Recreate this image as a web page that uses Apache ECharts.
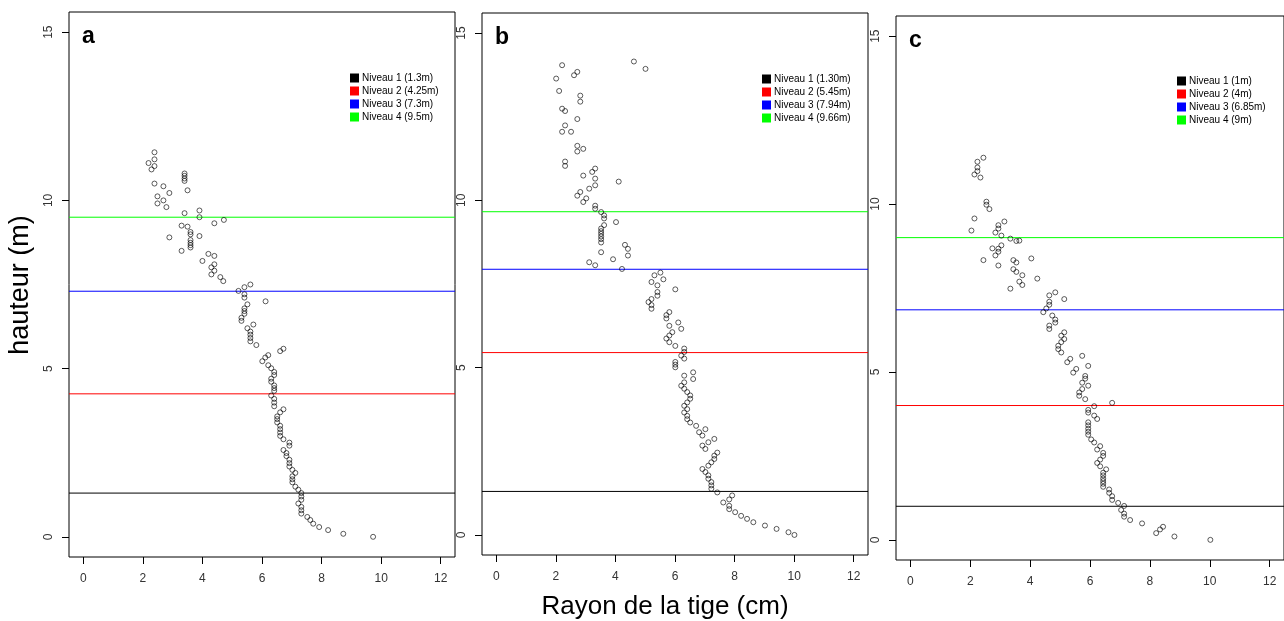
<!DOCTYPE html>
<html>
<head>
<meta charset="utf-8">
<script src="https://cdn.jsdelivr.net/npm/echarts@6/dist/echarts.min.js"></script>
<style>html,body{margin:0;padding:0;background:#fff}#c{width:1284px;height:621px}</style>
</head>
<body>
<div id="c"></div>
<script>
// ---------- data ----------
const ticksX = [0, 2, 4, 6, 8, 10, 12];
const ticksY = [0, 5, 10, 15];
const panelLetters = ['a', 'b', 'c'];
const niveauColors = ['#000000', '#ff0000', '#0000ff', '#00ff00'];

const aRayon = [2.39,2.39,2.19,2.39,2.29,3.40,3.40,3.40,3.40,2.39,2.69,3.50,2.89,2.49,2.69,2.49,2.79,3.90,3.40,3.90,4.72,4.40,3.30,3.50,3.60,3.60,3.90,2.89,3.60,3.60,3.60,3.60,3.30,4.20,4.40,4.00,4.40,4.30,4.40,4.30,4.60,4.70,5.61,5.41,5.21,5.41,5.41,6.12,5.51,5.41,5.41,5.41,5.31,5.31,5.71,5.51,5.61,5.61,5.61,5.61,5.81,6.72,6.61,6.21,6.11,6.01,6.21,6.31,6.41,6.41,6.31,6.31,6.41,6.41,6.41,6.31,6.41,6.41,6.41,6.72,6.61,6.51,6.51,6.51,6.61,6.61,6.61,6.61,6.72,6.92,6.92,6.72,6.82,6.82,6.92,6.92,6.92,7.02,7.12,7.02,7.02,7.02,7.12,7.22,7.32,7.32,7.32,7.22,7.32,7.32,7.32,7.52,7.62,7.72,7.92,8.22,8.73,9.73];
const aHauteur = [11.43,11.22,11.11,11.02,10.92,10.80,10.73,10.65,10.58,10.50,10.42,10.30,10.22,10.12,10.00,9.91,9.80,9.70,9.62,9.50,9.42,9.32,9.25,9.22,9.06,8.99,8.94,8.90,8.82,8.74,8.67,8.60,8.50,8.41,8.35,8.20,8.10,8.01,7.91,7.80,7.72,7.60,7.50,7.42,7.31,7.21,7.11,7.00,6.91,6.79,6.71,6.63,6.51,6.42,6.31,6.20,6.10,6.01,5.91,5.81,5.70,5.59,5.52,5.40,5.33,5.22,5.10,5.01,4.90,4.81,4.70,4.61,4.50,4.42,4.34,4.20,4.10,3.99,3.88,3.79,3.70,3.58,3.50,3.40,3.30,3.20,3.10,3.00,2.90,2.80,2.71,2.58,2.49,2.40,2.29,2.19,2.09,1.99,1.90,1.80,1.71,1.62,1.49,1.40,1.30,1.20,1.10,0.99,0.89,0.79,0.69,0.59,0.50,0.39,0.29,0.20,0.09,0.00];
const aNiveaux = [1.3, 4.25, 7.3, 9.5];
const aNoms = ['Niveau 1 (1.3m)', 'Niveau 2 (4.25m)', 'Niveau 3 (7.3m)', 'Niveau 4 (9.5m)'];

const bRayon = [4.62,5.01,2.21,2.72,2.61,2.01,2.11,2.82,2.82,2.21,2.31,2.72,2.31,2.21,2.51,2.72,2.92,2.72,2.31,2.31,3.32,3.22,2.92,3.32,4.11,3.32,3.12,2.82,2.72,3.02,2.92,3.32,3.32,3.52,3.62,3.62,4.02,3.62,3.52,3.52,3.52,3.52,3.52,3.52,4.32,4.42,3.52,4.42,3.92,3.12,3.32,4.22,5.51,5.31,5.61,5.21,5.41,6.01,5.41,5.41,5.21,5.11,5.21,5.21,5.81,5.71,5.71,6.11,5.81,6.21,5.91,5.81,5.71,5.81,6.01,6.31,6.31,6.21,6.31,6.01,6.01,6.01,6.61,6.31,6.61,6.31,6.21,6.31,6.41,6.51,6.51,6.41,6.31,6.41,6.31,6.41,6.41,6.51,6.71,7.02,6.81,6.92,7.32,7.12,6.92,7.02,7.42,7.32,7.32,7.22,7.12,6.92,7.02,7.12,7.12,7.22,7.22,7.22,7.42,7.92,7.82,7.62,7.82,7.82,8.02,8.22,8.42,8.63,9.02,9.41,9.81,10.01];
const bHauteur = [14.15,13.93,14.04,13.84,13.74,13.64,13.27,13.13,12.95,12.74,12.67,12.43,12.24,12.05,12.05,11.63,11.54,11.46,11.16,11.03,10.95,10.85,10.74,10.65,10.56,10.45,10.35,10.25,10.14,10.06,9.95,9.84,9.75,9.65,9.55,9.46,9.35,9.26,9.16,9.08,9.00,8.92,8.84,8.74,8.67,8.55,8.45,8.35,8.24,8.15,8.06,7.95,7.84,7.76,7.64,7.56,7.46,7.34,7.26,7.15,7.05,6.96,6.87,6.76,6.66,6.57,6.47,6.35,6.25,6.16,6.06,5.96,5.87,5.76,5.65,5.57,5.47,5.36,5.27,5.17,5.09,5.01,4.86,4.76,4.66,4.56,4.46,4.37,4.27,4.17,4.07,3.96,3.86,3.76,3.66,3.56,3.46,3.36,3.26,3.16,3.07,2.97,2.87,2.77,2.67,2.57,2.46,2.37,2.27,2.17,2.07,1.97,1.88,1.78,1.68,1.58,1.48,1.38,1.27,1.18,1.06,0.97,0.87,0.77,0.68,0.57,0.48,0.38,0.28,0.18,0.08,0.00];
const bNiveaux = [1.30, 5.45, 7.94, 9.66];
const bNoms = ['Niveau 1 (1.30m)', 'Niveau 2 (5.45m)', 'Niveau 3 (7.94m)', 'Niveau 4 (9.66m)'];

const cRayon = [2.44,2.24,2.24,2.24,2.14,2.34,2.54,2.54,2.64,2.14,3.14,2.94,2.94,2.04,2.84,3.04,3.34,3.54,3.64,3.04,2.74,2.94,2.94,2.84,4.04,2.44,3.44,3.54,2.94,3.44,3.54,3.74,4.24,3.64,3.74,3.34,4.84,4.64,5.14,4.64,4.64,4.54,4.44,4.74,4.84,4.84,4.64,4.64,5.14,5.04,5.14,5.04,4.94,4.94,5.04,5.74,5.34,5.24,5.94,5.54,5.44,5.84,5.84,5.74,5.94,5.74,5.64,5.64,5.84,6.74,6.14,5.94,5.94,6.14,6.24,5.94,5.94,5.94,5.94,5.94,6.04,6.14,6.34,6.24,6.44,6.44,6.34,6.24,6.34,6.54,6.44,6.44,6.44,6.44,6.44,6.44,6.64,6.64,6.74,6.74,6.94,7.14,7.04,7.14,7.14,7.34,7.74,8.44,8.34,8.21,8.82,10.02];
const cHauteur = [11.38,11.26,11.09,10.98,10.88,10.79,10.07,9.98,9.85,9.57,9.48,9.37,9.27,9.21,9.15,9.06,8.97,8.90,8.91,8.77,8.68,8.67,8.58,8.47,8.38,8.33,8.33,8.26,8.17,8.06,7.98,7.88,7.78,7.69,7.59,7.48,7.37,7.28,7.17,7.09,7.00,6.89,6.78,6.68,6.56,6.47,6.38,6.28,6.18,6.08,5.98,5.89,5.78,5.68,5.58,5.48,5.39,5.29,5.18,5.09,4.98,4.88,4.80,4.68,4.59,4.49,4.39,4.29,4.19,4.08,3.98,3.87,3.79,3.70,3.60,3.50,3.41,3.31,3.22,3.13,2.99,2.90,2.79,2.69,2.59,2.50,2.39,2.29,2.19,2.10,2.00,1.92,1.83,1.75,1.67,1.58,1.50,1.40,1.30,1.19,1.10,1.01,0.89,0.78,0.69,0.59,0.49,0.39,0.31,0.20,0.10,0.00];
const cNiveaux = [1, 4, 6.85, 9];
const cNoms = ['Niveau 1 (1m)', 'Niveau 2 (4m)', 'Niveau 3 (6.85m)', 'Niveau 4 (9m)'];

// ---------- layout ----------
const FONT = 'Liberation Sans, Arial, sans-serif';
const X_MIN = -0.48, X_MAX = 12.48, Y_MIN = -0.6, Y_MAX = 15.6;
const panels = [
  { rayon: aRayon, hauteur: aHauteur, niveaux: aNiveaux, noms: aNoms,
    grid: { left: 69, top: 12, width: 386, height: 545 }, legend: { left: 350, top: 73 } },
  { rayon: bRayon, hauteur: bHauteur, niveaux: bNiveaux, noms: bNoms,
    grid: { left: 482, top: 13, width: 386, height: 542 }, legend: { left: 762, top: 74 } },
  { rayon: cRayon, hauteur: cHauteur, niveaux: cNiveaux, noms: cNoms,
    grid: { left: 896, top: 16, width: 390, height: 544 }, legend: { left: 1177, top: 76 } }
];

const option = { animation: false, backgroundColor: '#fff',
  grid: [], xAxis: [], yAxis: [], series: [], legend: [], graphic: [] };

panels.forEach((p, i) => {
  option.grid.push(Object.assign({ show: true, borderColor: '#000', borderWidth: 1, backgroundColor: 'transparent' }, p.grid));
  option.xAxis.push({
    type: 'value', gridIndex: i, min: X_MIN, max: X_MAX, position: 'bottom',
    axisLine: { show: false, onZero: false }, splitLine: { show: false },
    axisTick: { show: true, inside: false, length: 7, customValues: ticksX, lineStyle: { color: '#000', width: 1 } },
    axisLabel: { customValues: ticksX, fontSize: 12, color: '#333', fontFamily: FONT, margin: 16 }
  });
  option.yAxis.push({
    type: 'value', gridIndex: i, min: Y_MIN, max: Y_MAX, position: 'left',
    axisLine: { show: false, onZero: false }, splitLine: { show: false },
    axisTick: { show: true, inside: false, length: 7, customValues: ticksY, lineStyle: { color: '#000', width: 1 } },
    axisLabel: { customValues: ticksY, rotate: 90, fontSize: 12, color: '#333', fontFamily: FONT, margin: 14 }
  });
  option.series.push({
    type: 'scatter', xAxisIndex: i, yAxisIndex: i, symbol: 'circle', symbolSize: 5,
    itemStyle: { color: 'rgba(0,0,0,0)', borderColor: '#000', borderWidth: 0.8 },
    data: p.rayon.map((r, k) => [r, p.hauteur[k]]), silent: true, z: 5
  });
  p.niveaux.forEach((lv, k) => {
    option.series.push({
      type: 'line', name: p.noms[k], xAxisIndex: i, yAxisIndex: i,
      data: [[X_MIN, lv], [X_MAX, lv]], showSymbol: false, symbol: 'none', silent: true,
      color: niveauColors[k],
      itemStyle: { color: niveauColors[k] },
      lineStyle: { color: niveauColors[k], width: 1, type: 'solid' },
      emphasis: { disabled: true }, z: 3
    });
  });
  option.legend.push({
    left: p.legend.left, top: p.legend.top, orient: 'vertical', data: p.noms,
    icon: 'rect', itemWidth: 9, itemHeight: 9, itemGap: 3, padding: 0,
    selectedMode: false,
    textStyle: { fontSize: 10, fontFamily: FONT, color: '#000', padding: [0, 0, 0, -2] }
  });
  option.graphic.push({
    type: 'text', left: p.grid.left + 13, top: p.grid.top + 13,
    style: { text: panelLetters[i], font: 'bold 23px ' + FONT, fill: '#000' }
  });
});

option.graphic.push({
  type: 'text', x: 21, y: 285, rotation: Math.PI / 2,
  style: { text: 'hauteur (m)', font: '27px ' + FONT, fill: '#000', align: 'center', verticalAlign: 'middle' }
});
option.graphic.push({
  type: 'text', x: 665, y: 607,
  style: { text: 'Rayon de la tige (cm)', font: '26px ' + FONT, fill: '#000', align: 'center', verticalAlign: 'middle' }
});

const chart = echarts.init(document.getElementById('c'), null, { renderer: 'canvas' });
chart.setOption(option);
</script>
</body>
</html>
